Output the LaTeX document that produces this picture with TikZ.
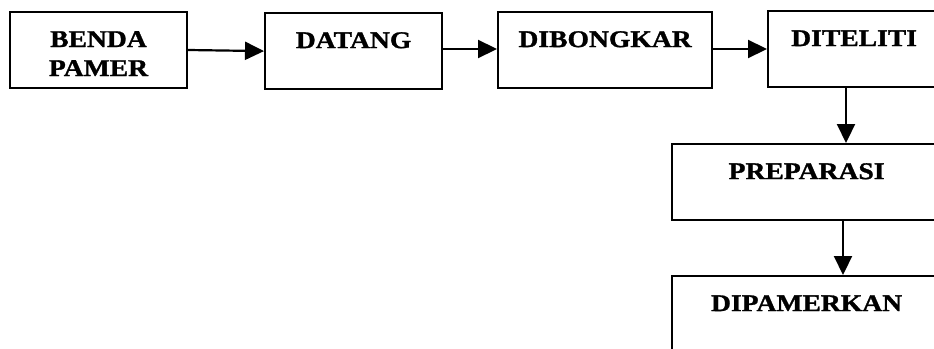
\documentclass[tikz,border=0pt]{standalone}
\usepackage{fontspec}
\setmainfont{Liberation Serif}
\newfontfamily\boxfont[FakeStretch=1.15,FakeBold=1.2]{Liberation Serif}
\usetikzlibrary{arrows.meta}
\begin{document}
\begin{tikzpicture}[x=1pt,y=-1pt,
  lbl/.style={font=\boxfont\bfseries\fontsize{24}{29}\selectfont},
  box/.style={draw,line width=2.2pt,inner sep=0pt,anchor=north west,lbl,
    text height=35pt,text depth=41pt},
  arr/.style={line width=2.2pt,-{Triangle[length=19pt,width=18pt]}}]
\useasboundingbox (0,0) rectangle (934,348);
\clip (0,0) rectangle (934,348);
\node[draw,line width=2.2pt,minimum width=177pt,minimum height=76pt,inner sep=0pt] (benda) at (98.5,50) {};
\node[lbl,align=center,anchor=base] (bendat) at (98.5,76) {BENDA\\PAMER};
\node[box,text width=177pt,align=center] (datang) at (264,12) {DATANG};
\node[box,text width=214pt,align=center] (bongkar) at (497,11) {DIBONGKAR};
\node[box,text width=172pt,align=center] (teliti) at (767,10) {DITELITI};
\node[box,text width=269pt,align=center] (prep) at (671,143) {PREPARASI};
\node[box,text width=269pt,align=center,text depth=100pt] (pamer) at (671,275) {DIPAMERKAN};
\draw[arr] (benda.east) -- (datang.west);
\draw[arr] (datang.east |- 0,49) -- (bongkar.west |- 0,49);
\draw[arr] (bongkar.east |- 0,49) -- (teliti.west |- 0,49);
\draw[arr] (teliti.south -| 846,0) -- (prep.north -| 846,0);
\draw[arr] (prep.south -| 843,0) -- (pamer.north -| 843,0);
\end{tikzpicture}
\end{document}
